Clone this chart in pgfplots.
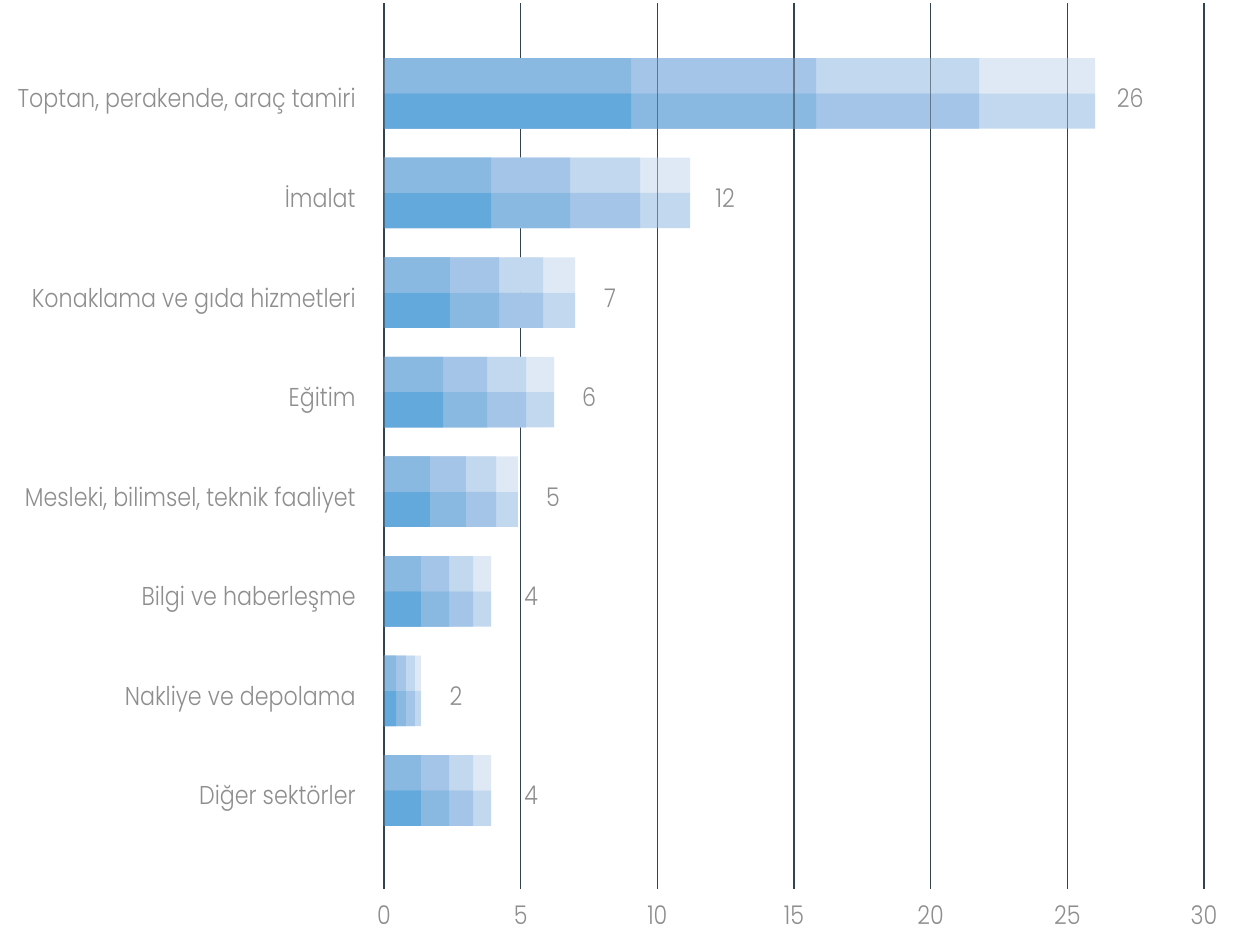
\documentclass[border=0pt]{standalone}
\usepackage{fontspec}
\setmainfont{Poppins}[UprightFont={* Light}, FakeStretch=0.86]
\usepackage{pgfplots}
\usepackage{pgfplotstable}
\pgfplotsset{compat=1.18}
\definecolor{Tone}{HTML}{89B8E1}
\definecolor{Ttwo}{HTML}{A4C5E8}
\definecolor{Tthree}{HTML}{C2D8EF}
\definecolor{Tfour}{HTML}{DEE9F5}
\definecolor{Bone}{HTML}{64A9DC}
\definecolor{txt}{HTML}{8E8E8E}
\definecolor{gridc}{HTML}{34444F}
\pgfplotstableread{
y yt yb c1 c2 c3 c4 lx lab
8 8.177 7.823 9.04 15.81 21.77 26.02 26.02 26
7 7.177 6.823 3.92 6.81 9.37 11.20 11.20 12
6 6.177 5.823 2.41 4.21 5.82 6.99 6.99 7
5 5.177 4.823 2.16 3.77 5.20 6.22 6.22 6
4 4.177 3.823 1.68 3.00 4.10 4.90 4.90 5
3 3.177 2.823 1.35 2.38 3.26 3.92 4.10 4
2 2.177 1.823 0.44 0.80 1.13 1.35 1.35 2
1 1.177 0.823 1.35 2.38 3.26 3.92 4.10 4
}\data
\begin{document}
\begin{tikzpicture}
\begin{axis}[
  at={(192pt,23pt)}, anchor=south west,
  scale only axis, width=410pt, height=443pt,
  xmin=0, xmax=30, ymin=0.011, ymax=8.907,
  axis line style={draw=none},
  tick style={draw=none},
  major tick length=0pt,
  xtick={0,5,...,30},
  ytick={1,...,8},
  yticklabels={Diğer sektörler, Nakliye ve depolama, Bilgi ve haberleşme, {Mesleki, bilimsel, teknik faaliyet}, Eğitim, Konaklama ve gıda hizmetleri, İmalat, {Toptan, perakende, araç tamiri}},
  /pgf/number format/assume math mode=true,
  ticklabel style={font=\fontsize{12.9}{15}\selectfont, text=txt, inner sep=0pt},
  xticklabel style={anchor=base, yshift=-18pt},
  yticklabel style={anchor=base east, xshift=-14pt, yshift=-7.25pt},
  xmajorgrids,
  grid style={draw=gridc, line width=0.6pt},
  xbar, bar width=0.354, bar shift=0pt,
  every axis plot/.append style={bar shift=0pt, draw=none},
  clip=false,
]
% top row
\addplot[xbar, fill=Tfour, draw=none] table[x=c4, y=yt] {\data};
\addplot[xbar, fill=Tthree, draw=none] table[x=c3, y=yt] {\data};
\addplot[xbar, fill=Ttwo, draw=none] table[x=c2, y=yt] {\data};
\addplot[xbar, fill=Tone, draw=none] table[x=c1, y=yt] {\data};
% bottom row
\addplot[xbar, fill=Tthree, draw=none] table[x=c4, y=yb] {\data};
\addplot[xbar, fill=Ttwo, draw=none] table[x=c3, y=yb] {\data};
\addplot[xbar, fill=Tone, draw=none] table[x=c2, y=yb] {\data};
\addplot[xbar, fill=Bone, draw=none] table[x=c1, y=yb] {\data};
% value labels
\addplot[xbar, draw=none, fill=none,
  nodes near coords, point meta=explicit symbolic,
  nodes near coords style={font=\fontsize{12.9}{15}\selectfont, text=txt, anchor=base, inner sep=0pt, xshift=17.5pt, yshift=-7.25pt}]
  table[x=lx, y=y, meta=lab] {\data};
% grid lines drawn over the bars
\draw[gridc, line width=0.6pt, opacity=0.6] (axis cs:0,0.011) -- (axis cs:0,8.907);
\draw[gridc, line width=0.6pt, opacity=0.6] (axis cs:10,0.011) -- (axis cs:10,8.907);
\draw[gridc, line width=0.6pt, opacity=0.6] (axis cs:15,0.011) -- (axis cs:15,8.907);
\draw[gridc, line width=0.6pt, opacity=0.6] (axis cs:20,0.011) -- (axis cs:20,8.907);
\draw[gridc, line width=0.6pt, opacity=0.6] (axis cs:25,0.011) -- (axis cs:25,8.907);
\draw[gridc, line width=0.6pt, opacity=0.6] (axis cs:30,0.011) -- (axis cs:30,8.907);
\end{axis}
\pgfresetboundingbox
\path[use as bounding box] (0,0) rectangle (618pt,467.5pt);
\end{tikzpicture}
\end{document}
